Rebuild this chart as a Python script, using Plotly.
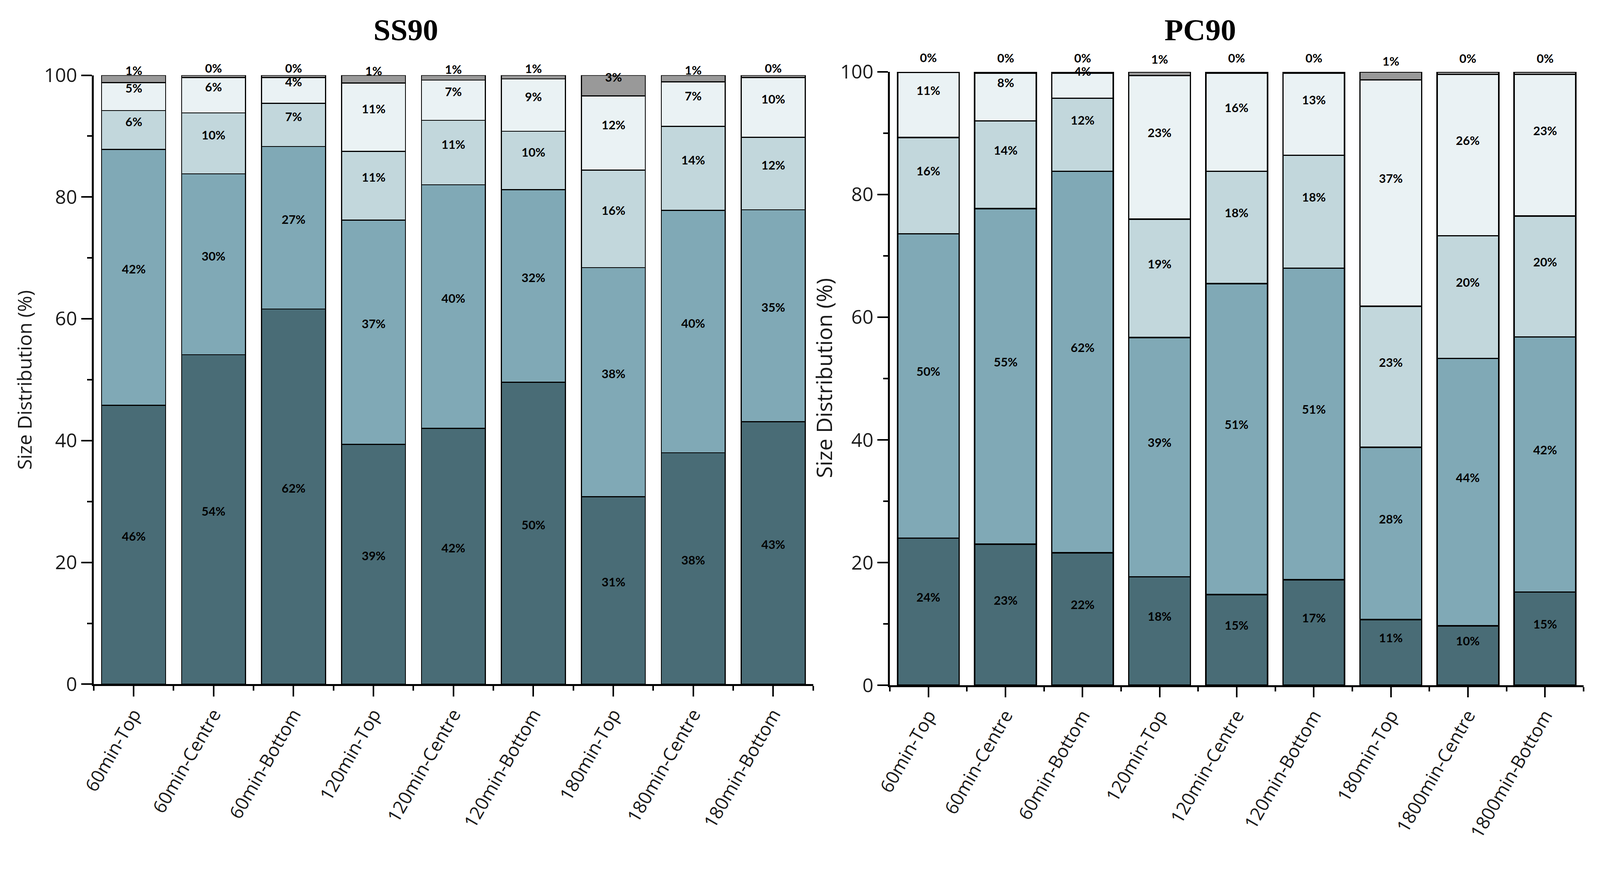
import plotly.graph_objects as go

# ---------------- data ----------------
categories_ss = ["60min-Top", "60min-Centre", "60min-Bottom", "120min-Top", "120min-Centre",
                 "120min-Bottom", "180min-Top", "180min-Centre", "180min-Bottom"]
categories_pc = ["60min-Top", "60min-Centre", "60min-Bottom", "120min-Top", "120min-Centre",
                 "120min-Bottom", "180min-Top", "1800min-Centre", "1800min-Bottom"]

# SS90 size classes (bottom -> top)
ss_dark = [45.8, 54.1, 61.6, 39.4, 42.0, 49.6, 30.8, 38.0, 43.1]
ss_mid = [42.0, 29.7, 26.7, 36.8, 40.0, 31.6, 37.6, 39.8, 34.8]
ss_light = [6.4, 10.0, 7.1, 11.3, 10.6, 9.6, 16.0, 13.8, 11.9]
ss_lightest = [4.6, 5.8, 4.2, 11.2, 6.6, 8.6, 12.2, 7.3, 9.8]
ss_grey = [1.2, 0.4, 0.4, 1.3, 0.8, 0.6, 3.4, 1.1, 0.4]

# PC90 size classes (bottom -> top)
pc_dark = [24.0, 23.0, 21.6, 17.7, 14.8, 17.2, 10.7, 9.7, 15.2]
pc_mid = [49.6, 54.7, 62.2, 39.0, 50.7, 50.8, 28.1, 43.6, 41.6]
pc_light = [15.7, 14.3, 11.9, 19.3, 18.3, 18.4, 23.0, 20.0, 19.7]
pc_lightest = [10.6, 7.8, 4.1, 23.4, 16.0, 13.4, 36.9, 26.3, 23.1]
pc_grey = [0.1, 0.2, 0.2, 0.6, 0.2, 0.2, 1.3, 0.4, 0.4]

y_ticks = [0, 20, 40, 60, 80, 100]
colors = ["#496c76", "#80a9b6", "#c2d7dc", "#eaf2f4", "#999999"]

# ---------------- geometry (page is shown slightly zoomed; compensate) ----------------
S = 1.07          # page zoom observed in the photographed window
BODY = 8          # default body margin of the html page
W = round(4382 / S - BODY)
H = round(2291 / S - BODY)


def px(p):
    return p / S - BODY


def fx(p):
    return px(p) / W


def fy(p):
    return 1 - px(p) / H


def sz(v):
    return v / S


fig = go.Figure()
annotations = []

panels = [
    dict(xa="x", ya="y", cats=categories_ss,
         series=[ss_dark, ss_mid, ss_light, ss_lightest, ss_grey], lw=sz(2.8), shift=sz(23)),
    dict(xa="x2", ya="y2", cats=categories_pc,
         series=[pc_dark, pc_mid, pc_light, pc_lightest, pc_grey], lw=sz(3.8), shift=sz(40)),
]

for p in panels:
    xs = list(range(len(p["cats"])))
    base = [0.0] * len(xs)
    for s, col in zip(p["series"], colors):
        fig.add_trace(go.Bar(
            x=xs, y=s, xaxis=p["xa"], yaxis=p["ya"], width=0.8,
            marker=dict(color=col, line=dict(color="black", width=p["lw"])),
            cliponaxis=False, showlegend=False, hoverinfo="y"))
        for i, v in enumerate(s):
            annotations.append(dict(
                x=i, y=base[i] + v / 2, xref=p["xa"], yref=p["ya"],
                text=f"{int(v + 0.5)}%", showarrow=False, yshift=p["shift"],
                font=dict(family="Lato", size=sz(33), color="black", weight="bold")))
            base[i] += v

# panel titles
for txt, xp in [("SS90", 1112), ("PC90", 3288)]:
    annotations.append(dict(x=fx(xp), y=fy(82), xref="paper", yref="paper", text=f"<b>{txt}</b>",
                            showarrow=False, xanchor="center", yanchor="middle",
                            font=dict(family="Liberation Serif", size=sz(84), color="black")))

# y-axis titles
for xp, yp, fs in [(66, 1041, 53), (2256, 1035, 59)]:
    annotations.append(dict(x=fx(xp), y=fy(yp), xref="paper", yref="paper",
                            text="Size Distribution (%)", textangle=-90, showarrow=False,
                            xanchor="center", yanchor="middle",
                            font=dict(family="Open Sans", size=sz(fs), color="#1a1a1a")))


def xaxis(domain, cats, anchor):
    return dict(domain=domain, anchor=anchor, range=[-0.5, len(cats) - 0.5], automargin=False,
                tickmode="array", tickvals=list(range(len(cats))), ticktext=cats,
                tickangle=-60, ticks="outside", ticklen=sz(28), tickwidth=sz(4.5), tickcolor="black",
                minor=dict(tick0=0.5, dtick=1, ticks="outside", ticklen=sz(12), tickwidth=sz(4.5),
                           tickcolor="black"),
                showline=True, linewidth=sz(5.5), linecolor="black", showgrid=False, zeroline=False,
                tickfont=dict(family="Open Sans", size=sz(50), color="#1a1a1a"))


def yaxis(domain, anchor):
    return dict(domain=domain, anchor=anchor, range=[0, 100], tickmode="array", automargin=False,
                tickvals=y_ticks, ticktext=[str(t) for t in y_ticks],
                ticks="outside", ticklen=sz(29), tickwidth=sz(4.5), tickcolor="black",
                minor=dict(tick0=0, dtick=10, ticks="outside", ticklen=sz(13), tickwidth=sz(4.5),
                           tickcolor="black"),
                showline=True, linewidth=sz(5.5), linecolor="black", showgrid=False, zeroline=False,
                tickfont=dict(family="Open Sans", size=sz(53), color="#1a1a1a"))


fig.update_layout(
    width=W, height=H, margin=dict(l=0, r=0, t=0, b=0, pad=0), autosize=False,
    paper_bgcolor="white", plot_bgcolor="white", barmode="stack",
    xaxis=xaxis([fx(256.5), fx(2227.5)], categories_ss, "y"),
    yaxis=yaxis([fy(1874), fy(206)], "x"),
    xaxis2=xaxis([fx(2437.5), fx(4337.6)], categories_pc, "y2"),
    yaxis2=yaxis([fy(1877), fy(197)], "x2"),
    annotations=annotations,
)

fig.write_html("out.html")
